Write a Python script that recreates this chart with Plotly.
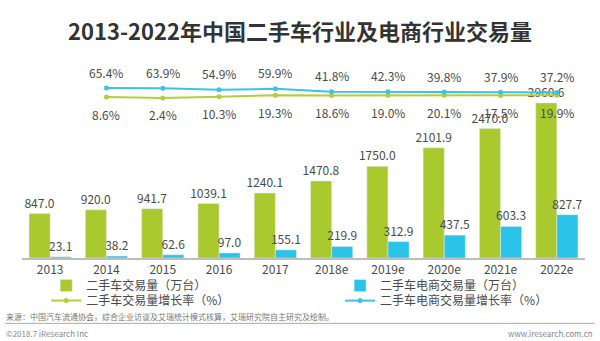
import plotly.graph_objects as go

years = ["2013", "2014", "2015", "2016", "2017", "2018e", "2019e", "2020e", "2021e", "2022e"]
used_car_volume = [847.0, 920.0, 941.7, 1039.1, 1240.1, 1470.8, 1750.0, 2101.9, 2470.0, 2960.6]
ecom_volume = [23.1, 38.2, 62.6, 97.0, 155.1, 219.9, 312.9, 437.5, 603.3, 827.7]

growth_years = ["2014", "2015", "2016", "2017", "2018e", "2019e", "2020e", "2021e", "2022e"]
used_car_growth = [8.6, 2.4, 10.3, 19.3, 18.6, 19.0, 20.1, 17.5, 19.9]
ecom_growth = [65.4, 63.9, 54.9, 59.9, 41.8, 42.3, 39.8, 37.9, 37.2]

GREEN = "#a9c92f"
BLUE = "#2cc3e8"
GREEN_L = "#b7cc3c"
BLUE_L = "#3ec2e4"
TXT = "#4a4a4a"
FONT = "Noto Sans CJK SC"

fig = go.Figure()
fig.add_trace(go.Bar(
    x=years, y=used_car_volume, name="二手车交易量（万台）", legend="legend",
    marker_color=GREEN, text=[f"{v:.1f}" for v in used_car_volume],
    textposition="outside", constraintext="none", cliponaxis=False,
    textfont=dict(size=12, color=TXT, family=FONT),
))
fig.add_trace(go.Bar(
    x=years, y=ecom_volume, name="二手车电商交易量（万台）", legend="legend2",
    marker_color=BLUE, text=[f"{v:.1f}" for v in ecom_volume],
    textposition="outside", constraintext="none", cliponaxis=False,
    textfont=dict(size=12, color=TXT, family=FONT),
))
fig.add_trace(go.Scatter(
    x=growth_years, y=used_car_growth, name="二手车交易量增长率（%）", yaxis="y2",
    legend="legend3", mode="lines+markers", line=dict(color=GREEN_L, width=2),
    marker=dict(size=5, color=GREEN_L), cliponaxis=False,
))
fig.add_trace(go.Scatter(
    x=growth_years, y=ecom_growth, name="二手车电商交易量增长率（%）", yaxis="y2",
    legend="legend4", mode="lines+markers", line=dict(color=BLUE_L, width=2),
    marker=dict(size=5, color=BLUE_L), cliponaxis=False,
))

annotations = []
for xv, yv in zip(growth_years, ecom_growth):
    annotations.append(dict(x=years.index(xv), y=yv, xref="x", yref="y2", text=f"{yv:.1f}%",
                            showarrow=False, yshift=16,
                            font=dict(size=12, color=TXT, family=FONT)))
for xv, yv in zip(growth_years, used_car_growth):
    annotations.append(dict(x=years.index(xv), y=yv, xref="x", yref="y2", text=f"{yv:.1f}%",
                            showarrow=False, yshift=-17,
                            font=dict(size=12, color=TXT, family=FONT)))

annotations.append(dict(text="来源：中国汽车流通协会，综合企业访谈及艾瑞统计模式核算，艾瑞研究院自主研究及绘制。",
                        xref="paper", yref="paper", x=0, xanchor="left",
                        y=-0.295, yanchor="middle", showarrow=False, xshift=-18,
                        font=dict(size=8, color="#777777", family=FONT)))
annotations.append(dict(text="©2018.7 iResearch Inc", xref="paper", yref="paper",
                        x=0, xanchor="left", y=-0.38, yanchor="middle", showarrow=False, xshift=-18,
                        font=dict(size=8, color="#888888", family=FONT)))
annotations.append(dict(text="www.iresearch.com.cn", xref="paper", yref="paper",
                        x=1, xanchor="right", y=-0.38, yanchor="middle", showarrow=False, xshift=10,
                        font=dict(size=8, color="#888888", family=FONT)))

legend_common = dict(orientation="v", yanchor="top", xanchor="left",
                     tracegroupgap=0, bgcolor="rgba(0,0,0,0)",
                     font=dict(size=12, color=TXT, family=FONT), itemwidth=30)

fig.update_layout(
    width=600, height=341,
    margin=dict(l=22, r=15, t=60, b=83),
    paper_bgcolor="white", plot_bgcolor="white",
    barmode="group", bargap=0.25, bargroupgap=0,
    title=dict(text="<b>2013-2022年中国二手车行业及电商行业交易量</b>", x=0.5, xanchor="center",
               y=0.905, yanchor="middle", font=dict(size=22, color="#333333", family=FONT)),
    xaxis=dict(type="category", categoryorder="array", categoryarray=years,
               range=[-0.5, len(years) - 0.5], autorange=False,
               showgrid=False, showline=True, linecolor="#bdbdbd", linewidth=1.5,
               ticks="", tickfont=dict(size=12, color=TXT, family=FONT)),
    yaxis=dict(range=[0, 3779], visible=False),
    yaxis2=dict(range=[-1007.6, 242.1], overlaying="y", anchor="x", side="right", visible=False),
    showlegend=True,
    legend=dict(x=0.043, y=-0.066, **legend_common),
    legend2=dict(x=0.565, y=-0.066, **legend_common),
    legend3=dict(x=0.043, y=-0.142, **legend_common),
    legend4=dict(x=0.565, y=-0.142, **legend_common),
    annotations=annotations,
    shapes=[dict(type="line", xref="paper", yref="paper", x0=-0.03, x1=1.017,
                 y0=-0.33, y1=-0.33, line=dict(color="#aaaaaa", width=1))],
)

fig.write_html("out.html")
